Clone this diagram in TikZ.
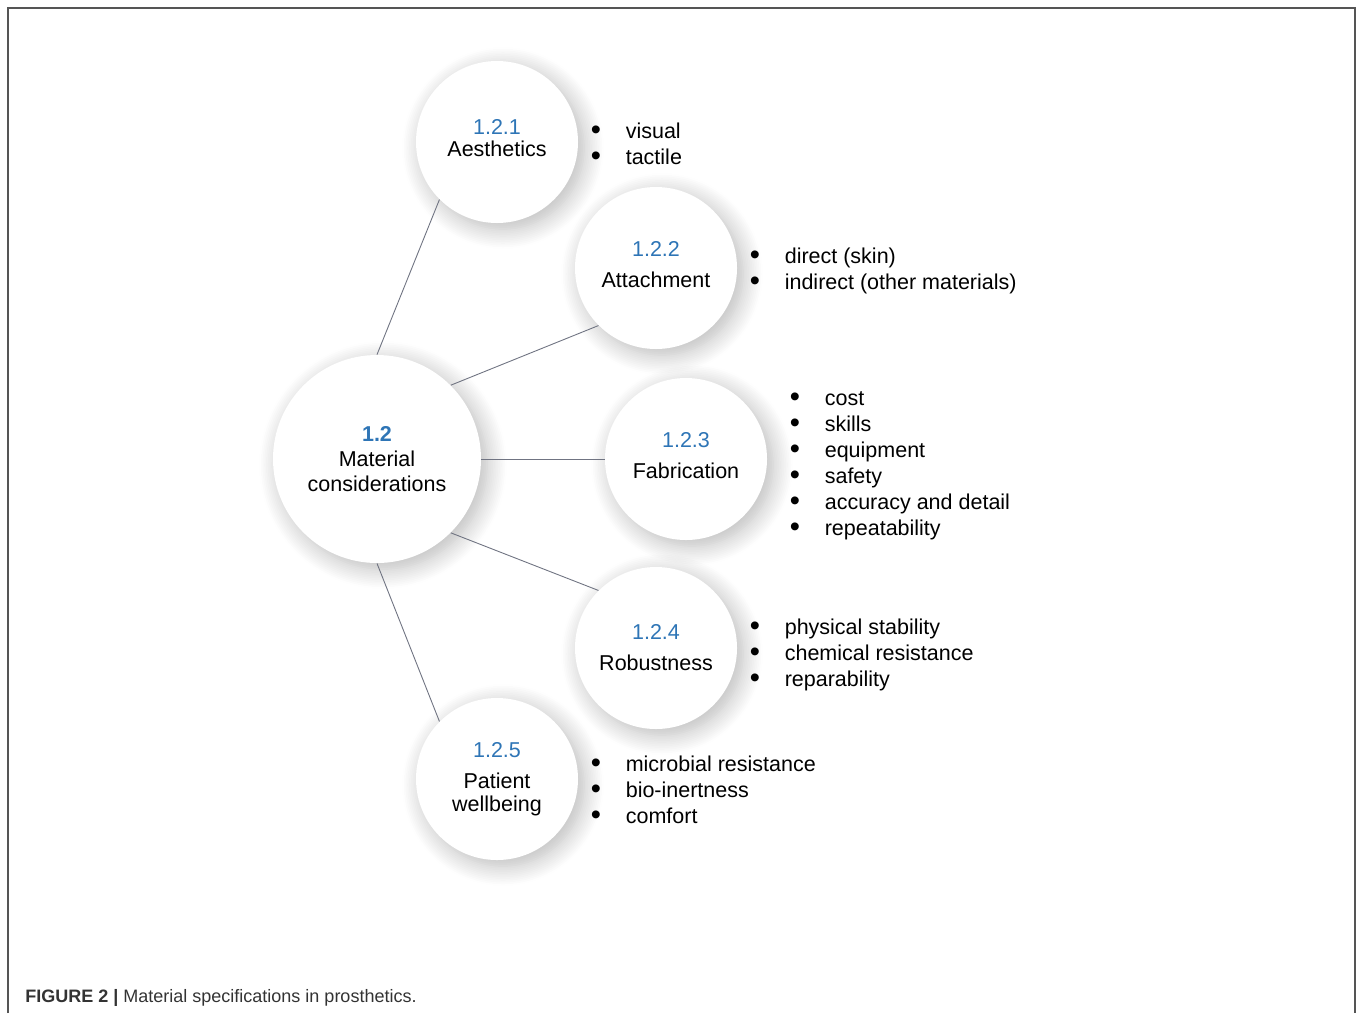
\documentclass[tikz,border=0pt]{standalone}
\usepackage{fontspec}
\setmainfont{Liberation Sans}
\usetikzlibrary{positioning}
\usetikzlibrary{shadows.blur}

\definecolor{numblue}{RGB}{46,117,182}
\definecolor{linkgrey}{RGB}{112,116,130}
\definecolor{framegrey}{RGB}{85,85,85}

\newcommand{\blt}{\makebox[17.5pt][l]{\raisebox{-0.5pt}{\scalebox{1.35}{\textbullet}}}}

\begin{document}
\begin{tikzpicture}[x=0.5pt,y=-0.5pt]

\tikzstyle{every node}=[font=\fontsize{10.75}{13}\selectfont]
\tikzstyle{bubble} = [circle, fill=white, minimum size=81pt, inner sep=0pt, align=center,
    blur shadow={shadow xshift=3pt, shadow yshift=-3pt, shadow blur radius=10pt,
                 shadow blur steps=12, shadow opacity=28}]
\tikzstyle{link} = [draw=linkgrey, line width=0.45pt]
\tikzstyle{items} = [inner sep=0pt, align=left, anchor=west]

\useasboundingbox (0,0) rectangle (1358,1013);
\draw[framegrey, line width=0.8pt] (8,1013) -- (8,8) -- (1355,8) -- (1355,1013);

% sub topics
\node[bubble] at (497,142) (aes) {\textcolor{numblue}{1.2.1}\\[-2pt]Aesthetics\\[-9pt]\mbox{}};
\node[bubble] at (656,268) (att) {\textcolor{numblue}{1.2.2}\\[2.5pt]Attachment\\[-9pt]\mbox{}};
\node[bubble] at (686,459) (fab) {\textcolor{numblue}{1.2.3}\\[2.5pt]Fabrication\\[-9pt]\mbox{}};
\node[bubble] at (656,648) (rob) {\textcolor{numblue}{1.2.4}\\[2.5pt]Robustness};
\node[bubble] at (497,779) (pat) {\textcolor{numblue}{1.2.5}\\[2.5pt]Patient\\[-1.5pt]wellbeing};

% main topic
\node[bubble, minimum size=104pt] at (377,459) (mat) {\textcolor{numblue}{\bfseries 1.2}\\[-0.5pt]Material\\[-0.5pt]considerations};

\foreach \from/\to in {north/aes.south west, north east/att.south west, east/fab.west,
                       south east/rob.north west, south/pat.north west} {
    \draw[link] (mat.\from) -- (\to);
}

% bullet lists
\node[items, right=6pt of aes, yshift=-1pt] (aesl) {\blt visual\\\blt tactile};
\node[items, right=6pt of att, yshift=-1.5pt] (attl) {\blt direct (skin)\\\blt indirect (other materials)};
\node[items, right=11pt of fab, yshift=-3.5pt] (fabl) {\blt cost\\\blt skills\\\blt equipment\\\blt safety\\\blt accuracy and detail\\\blt repeatability};
\node[items, right=6pt of rob, yshift=-3.5pt] (robl) {\blt physical stability\\\blt chemical resistance\\\blt reparability};
\node[items, right=6pt of pat, yshift=-5.5pt] (patl) {\blt microbial resistance\\\blt bio-inertness\\\blt comfort};

\node[items, font=\fontsize{9}{11}\selectfont, text=black!80] at (25,998) (cap)
    {\textbf{FIGURE 2 |} Material specifications in prosthetics.};

\end{tikzpicture}
\end{document}
